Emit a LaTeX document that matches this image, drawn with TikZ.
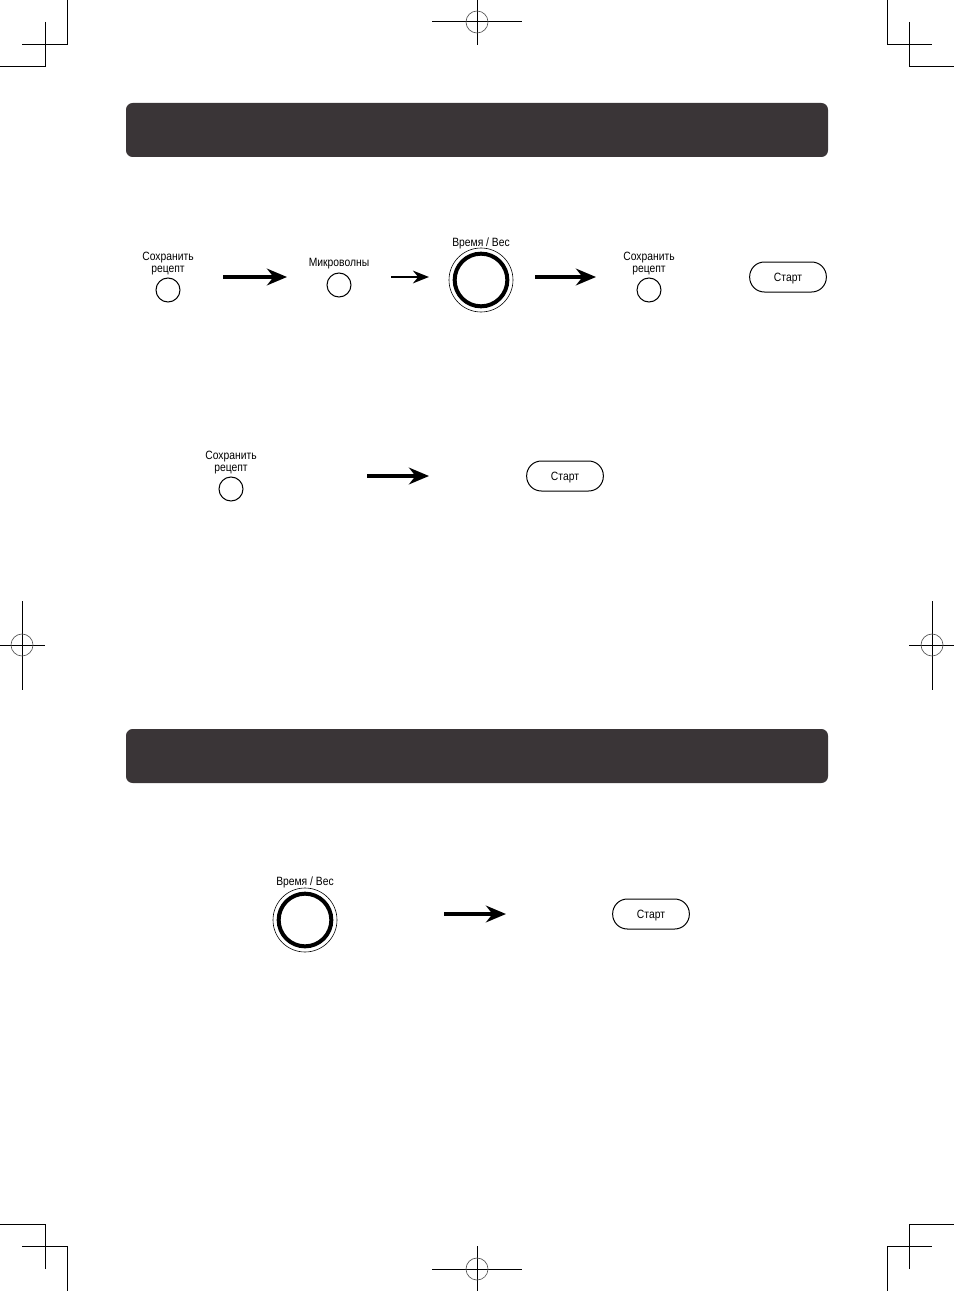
\documentclass[tikz,border=0pt]{standalone}
\usepackage{fontspec}
\setmainfont[FakeStretch=0.86]{Liberation Sans}
\usetikzlibrary{arrows.meta, positioning}
\definecolor{barcolor}{HTML}{3A3537}
\definecolor{regcolor}{HTML}{555555}

\tikzset{
  cropline/.style={line width=0.75pt},
  regcircle/.style={line width=0.5pt, draw=regcolor},
  keybtn/.style={circle, draw, line width=0.75pt, minimum size=18pt, inner sep=0pt},
  keytext/.style={align=center, inner sep=0pt, font=\fontsize{9}{9}\selectfont},
  knobouter/.style={circle, draw, line width=0.45pt, minimum size=48pt, inner sep=0pt},
  knobinner/.style={circle, draw, line width=3pt, minimum size=39.5pt, inner sep=0pt},
  startbtn/.style={draw, line width=0.75pt, rounded corners=11pt, minimum width=57.5pt, minimum height=22.5pt, inner sep=0pt, text height=6.4pt, text depth=0pt, font=\fontsize{9}{9}\selectfont},
  bigarrow/.style={line width=3.3pt, -{Stealth[length=15pt, width=12.5pt]}},
  smallarrow/.style={line width=1.8pt, -{Stealth[length=12pt, width=9.5pt]}},
  bar/.style={fill=barcolor, rounded corners=5pt}
}

\begin{document}
\begin{tikzpicture}[x=0.75pt, y=-0.75pt]
\useasboundingbox (0,0) rectangle (954,1291);

% crop marks
\draw[cropline] (67,0) -- (67,45) -- (22,45);
\draw[cropline] (45,22) -- (45,67) -- (0,67);
\draw[cropline] (887,0) -- (887,45) -- (932,45);
\draw[cropline] (909,22) -- (909,67) -- (954,67);
\draw[cropline] (67,1291) -- (67,1246) -- (22,1246);
\draw[cropline] (45,1269) -- (45,1224) -- (0,1224);
\draw[cropline] (887,1291) -- (887,1246) -- (932,1246);
\draw[cropline] (909,1269) -- (909,1224) -- (954,1224);

% registration marks
\draw[cropline] (477,0) -- (477,45);
\draw[cropline] (432,22) -- (522,22);
\draw[regcircle] (477,22) circle (11);
\draw[cropline] (477,1246) -- (477,1291);
\draw[cropline] (432,1269) -- (522,1269);
\draw[regcircle] (477,1269) circle (11);
\draw[cropline] (22,601) -- (22,690);
\draw[cropline] (0,645) -- (45,645);
\draw[regcircle] (22,645) circle (11);
\draw[cropline] (932,601) -- (932,690);
\draw[cropline] (909,645) -- (954,645);
\draw[regcircle] (932,645) circle (11);

% title bars
\fill[bar] (126,103) rectangle (828,157);
\fill[bar] (126,729) rectangle (828,783);

% row 1
\node[keytext] (save1txt) at (168,264) {Сохранить\\рецепт};
\node[keybtn] (save1) at (168,290) {};
\node[keytext] (microtxt) at (339,263.5) {Микроволны};
\node[keybtn] (micro) at (339,285) {};
\node[keytext] (knob1txt) at (481,243.5) {Время / Вес};
\node[knobouter] (knob1) at (481,280) {};
\node[knobinner] (knob1in) at (knob1) {};
\node[keytext] (save2txt) at (649,264) {Сохранить\\рецепт};
\node[keybtn] (save2) at (649,290) {};
\node[startbtn] (start1) at (788,277) {Старт};

\coordinate (a1s) at (223,277);
\coordinate (a1e) at (287,277);
\coordinate (a2s) at (391,277);
\coordinate (a2e) at (429,277);
\coordinate (a3s) at (535,277);
\coordinate (a3e) at (596,277);
\draw[bigarrow] (a1s) -- (a1e);
\draw[smallarrow] (a2s) -- (a2e);
\draw[bigarrow] (a3s) -- (a3e);

% row 2
\node[keytext] (save3txt) at (231,463) {Сохранить\\рецепт};
\node[keybtn] (save3) at (231,489) {};
\node[startbtn] (start2) at (565,476) {Старт};
\coordinate (a4s) at (367,476);
\coordinate (a4e) at (429,476);
\draw[bigarrow] (a4s) -- (a4e);

% row 3
\node[keytext] (knob2txt) at (305,882.5) {Время / Вес};
\node[knobouter] (knob2) at (305,920) {};
\node[knobinner] (knob2in) at (knob2) {};
\node[startbtn] (start3) at (651,914) {Старт};
\coordinate (a5s) at (444,914);
\coordinate (a5e) at (506,914);
\draw[bigarrow] (a5s) -- (a5e);

\end{tikzpicture}
\end{document}
